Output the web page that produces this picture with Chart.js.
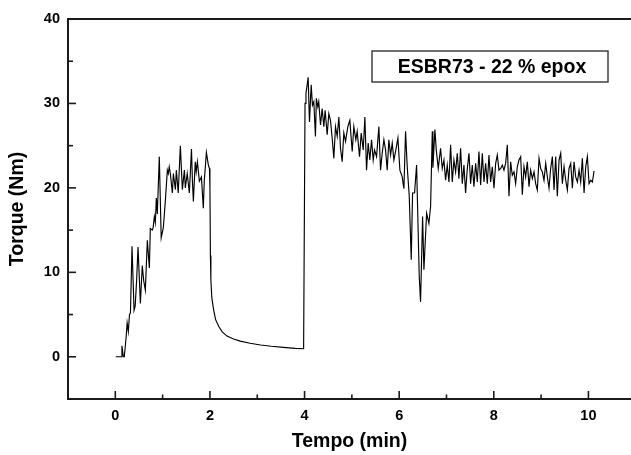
<!DOCTYPE html>
<html>
<head>
<meta charset="utf-8">
<script src="https://cdn.jsdelivr.net/npm/chart.js@4.4.1/dist/chart.umd.min.js"></script>
<style>
  html, body { margin: 0; padding: 0; background: #fff; }
  #wrap { width: 631px; height: 455px; }
</style>
</head>
<body>
<div id="wrap"><canvas id="c" width="631" height="455"></canvas></div>
<script>
// ---- data: [tempo (min), torque (Nm)] ----
const faseMistura = [
  [0.01,0],[0.10,0],[0.13,0],[0.14,1.3],[0.17,0],[0.19,0],[0.23,2.4],[0.25,4.0],[0.275,3.0],[0.30,5.0],[0.32,5.2],
  [0.353,13.1],[0.396,5.5],[0.42,6.0],[0.45,9.0],[0.48,13.0],[0.53,6.3],[0.57,10.8],[0.60,9.0],[0.635,7.9],
  [0.677,13.8],[0.72,10.5],[0.74,15.2],[0.78,15.0],[0.80,15.3],[0.825,16.6],[0.846,15.9],[0.867,18.8],
  [0.888,16.9],[0.93,23.7],[0.97,14.1],[1.015,15.3],[1.057,18.4],[1.10,22.1],[1.12,21.7],[1.14,22.5],
  [1.163,21.7],[1.206,19.4],[1.227,21.7],[1.27,19.8],[1.29,22.1],[1.33,19.4],[1.375,25.0],[1.417,19.8],
  [1.46,22.1],[1.48,20.0],[1.52,21.7],[1.565,19.4],[1.61,24.6],[1.63,20.8],[1.65,18.4],[1.69,23.1],
  [1.71,21.9],[1.735,23.1],[1.777,20.8],[1.82,21.3],[1.86,17.6],[1.88,20.8],[1.925,24.2],[1.967,22.7],[1.99,22.3]
];
const faseQueda = [
  [2.00,20.0],[2.01,12.0],[2.02,9.1],[2.04,7.0],[2.08,5.5],[2.12,4.4],[2.19,3.55],[2.26,2.95],[2.36,2.45],
  [2.50,2.1],[2.64,1.85],[2.85,1.6],[3.07,1.4],[3.30,1.25],[3.55,1.12],[3.80,1.0],[3.98,0.95]
];
const faseEpox = [
  [4.01,30.0],[4.03,31.2],[4.076,33.1],[4.104,27.8],[4.14,32.2],[4.167,29.8],[4.196,30.2],[4.23,26.1],
  [4.25,30.6],[4.28,29.6],[4.30,30.2],[4.337,27.45],[4.372,29.4],[4.407,27.25],[4.435,29.2],[4.478,26.3],
  [4.513,28.8],[4.548,28.0],[4.59,25.5],[4.619,23.5],[4.654,27.25],[4.69,26.1],[4.725,28.4],[4.76,24.7],
  [4.795,23.1],[4.83,26.5],[4.866,25.5],[4.915,27.25],[4.957,28.0],[5.007,24.3],[5.042,27.25],[5.084,25.7],
  [5.112,26.7],[5.162,23.7],[5.197,26.5],[5.24,24.5],[5.275,28.4],[5.31,22.1],[5.345,25.3],[5.38,23.3],
  [5.416,25.7],[5.451,23.3],[5.479,24.5],[5.522,23.7],[5.571,27.25],[5.606,22.1],[5.641,24.1],[5.677,25.7],
  [5.712,24.5],[5.747,22.1],[5.782,25.7],[5.818,23.9],[5.853,25.3],[5.888,23.3],[5.93,24.5],[5.973,25.9],
  [6.015,22.1],[6.064,21.3],[6.10,19.9],[6.135,26.7],[6.17,22.5],[6.213,19.0],[6.255,11.5],[6.283,19.4],
  [6.325,19.4],[6.368,22.7],[6.424,9.5],[6.452,6.5],[6.495,16.6],[6.523,10.3],[6.58,17.0],[6.628,15.8],
  [6.664,17.8],[6.70,26.7]
];
const faseFinal = [
  [6.713,22.4],[6.755,26.9],[6.784,24.5],[6.826,22.3],[6.875,24.7],[6.91,22.3],[6.946,23.3],[6.981,20.9],
  [7.016,22.7],[7.052,20.7],[7.087,25.1],[7.122,20.7],[7.157,23.3],[7.193,21.9],[7.228,24.1],[7.263,21.1],
  [7.298,24.7],[7.334,20.5],[7.369,22.7],[7.404,19.4],[7.44,22.3],[7.475,24.1],[7.51,20.5],[7.545,22.7],
  [7.58,20.15],[7.616,22.9],[7.651,20.7],[7.686,24.3],[7.722,20.35],[7.757,24.1],[7.792,20.7],[7.827,22.9],
  [7.863,20.5],[7.898,23.9],[7.933,20.7],[7.968,22.5],[8.004,19.95],[8.039,22.9],[8.074,23.9],[8.109,22.1],
  [8.145,22.3],[8.18,22.7],[8.215,22.1],[8.25,22.9],[8.286,25.1],[8.321,19.0],[8.356,23.1],[8.391,21.5],
  [8.427,21.9],[8.462,20.5],[8.497,22.5],[8.532,23.3],[8.568,23.7],[8.603,19.2],[8.638,22.5],[8.673,21.3],
  [8.709,23.1],[8.744,20.15],[8.779,22.1],[8.815,21.1],[8.85,21.9],[8.885,20.5],[8.92,19.75],[8.956,23.5],
  [8.991,22.3],[9.026,21.9],[9.061,20.9],[9.097,22.9],[9.132,21.3],[9.167,19.95],[9.202,22.3],[9.238,23.7],
  [9.273,19.75],[9.308,23.7],[9.343,19.0],[9.379,23.3],[9.414,24.1],[9.449,20.5],[9.485,22.5],[9.52,20.9],
  [9.555,19.75],[9.59,22.3],[9.626,22.9],[9.661,19.95],[9.696,23.1],[9.731,21.3],[9.767,20.7],[9.802,22.1],
  [9.837,20.7],[9.872,23.5],[9.908,19.4],[9.943,22.5],[9.978,23.7],[10.013,20.5],[10.049,20.9],[10.084,20.7],[10.119,22.0]
];

const xTickValues = [0, 2, 4, 6, 8, 10];
const xMinorValues = [-1, 1, 3, 5, 7, 9];
const yTickValues = [0, 10, 20, 30, 40];
const yMinorValues = [-5, 5, 15, 25, 35];
const xTitle = 'Tempo (min)';
const yTitle = 'Torque (Nm)';
const legendText = 'ESBR73 - 22 % epox';

const FONT = '"Liberation Sans", Arial, Helvetica, sans-serif';
const INK = '#1a1a1a';

const points = [...faseMistura, ...faseQueda, ...faseEpox, ...faseFinal].map(([x, y]) => ({x, y}));

const decor = {
  id: 'decor',
  afterDraw(chart) {
    const {ctx, chartArea: a, scales: {x, y}} = chart;
    ctx.save();
    ctx.strokeStyle = INK;
    ctx.lineWidth = 2;
    ctx.beginPath();
    ctx.moveTo(a.left - 1, a.top);
    ctx.lineTo(a.right, a.top);
    ctx.stroke();
    ctx.lineWidth = 1.6;
    const seg = (x1, y1, x2, y2) => { ctx.beginPath(); ctx.moveTo(x1, y1); ctx.lineTo(x2, y2); ctx.stroke(); };
    xTickValues.forEach(v => { const p = x.getPixelForValue(v); seg(p, a.bottom, p, a.bottom - 8); });
    xMinorValues.forEach(v => { const p = x.getPixelForValue(v); seg(p, a.bottom, p, a.bottom - 4.5); });
    yTickValues.forEach(v => { const p = y.getPixelForValue(v); seg(a.left, p, a.left + 8, p); });
    yMinorValues.forEach(v => { const p = y.getPixelForValue(v); seg(a.left, p, a.left + 5, p); });
    // legend box
    const bx = a.left + 304, by = a.top + 32, bw = 236, bh = 31;
    ctx.fillStyle = '#fff';
    ctx.fillRect(bx, by, bw, bh);
    ctx.strokeStyle = '#333';
    ctx.lineWidth = 1.4;
    ctx.strokeRect(bx, by, bw, bh);
    ctx.fillStyle = '#000';
    ctx.font = 'bold 19.5px ' + FONT;
    ctx.textAlign = 'center';
    ctx.textBaseline = 'middle';
    ctx.fillText(legendText, bx + bw / 2 + 2, by + bh / 2 + 1);
    ctx.restore();
  }
};

new Chart(document.getElementById('c'), {
  type: 'line',
  data: {
    datasets: [{
      data: points,
      borderColor: '#000',
      borderWidth: 1.15,
      pointRadius: 0,
      tension: 0,
      fill: false
    }]
  },
  options: {
    responsive: false,
    animation: false,
    events: [],
    layout: { padding: { top: 19, left: 0, right: 0, bottom: 0 } },
    plugins: { legend: { display: false }, tooltip: { enabled: false } },
    scales: {
      x: {
        type: 'linear',
        min: -1,
        max: 10.9,
        afterBuildTicks: s => { s.ticks = xTickValues.map(v => ({value: v})); },
        afterFit: s => { s.height = 56; },
        grid: { display: false, drawTicks: false },
        border: { display: true, color: INK, width: 2 },
        ticks: { color: '#000', font: { family: FONT, size: 14.5, weight: 'bold' }, padding: 8, maxRotation: 0 },
        title: { display: true, text: xTitle, color: '#000', font: { family: FONT, size: 19.5, weight: 'bold' }, padding: { top: 0, bottom: 2 } }
      },
      y: {
        type: 'linear',
        min: -5,
        max: 40,
        afterBuildTicks: s => { s.ticks = yTickValues.map(v => ({value: v})); },
        afterFit: s => { s.width = 68; },
        grid: { display: false, drawTicks: false },
        border: { display: true, color: INK, width: 2 },
        ticks: { color: '#000', font: { family: FONT, size: 14.5, weight: 'bold' }, padding: 8 },
        title: { display: true, text: yTitle, color: '#000', font: { family: FONT, size: 19.5, weight: 'bold' }, padding: { top: 6, bottom: 0 } }
      }
    }
  },
  plugins: [decor]
});
</script>
</body>
</html>
